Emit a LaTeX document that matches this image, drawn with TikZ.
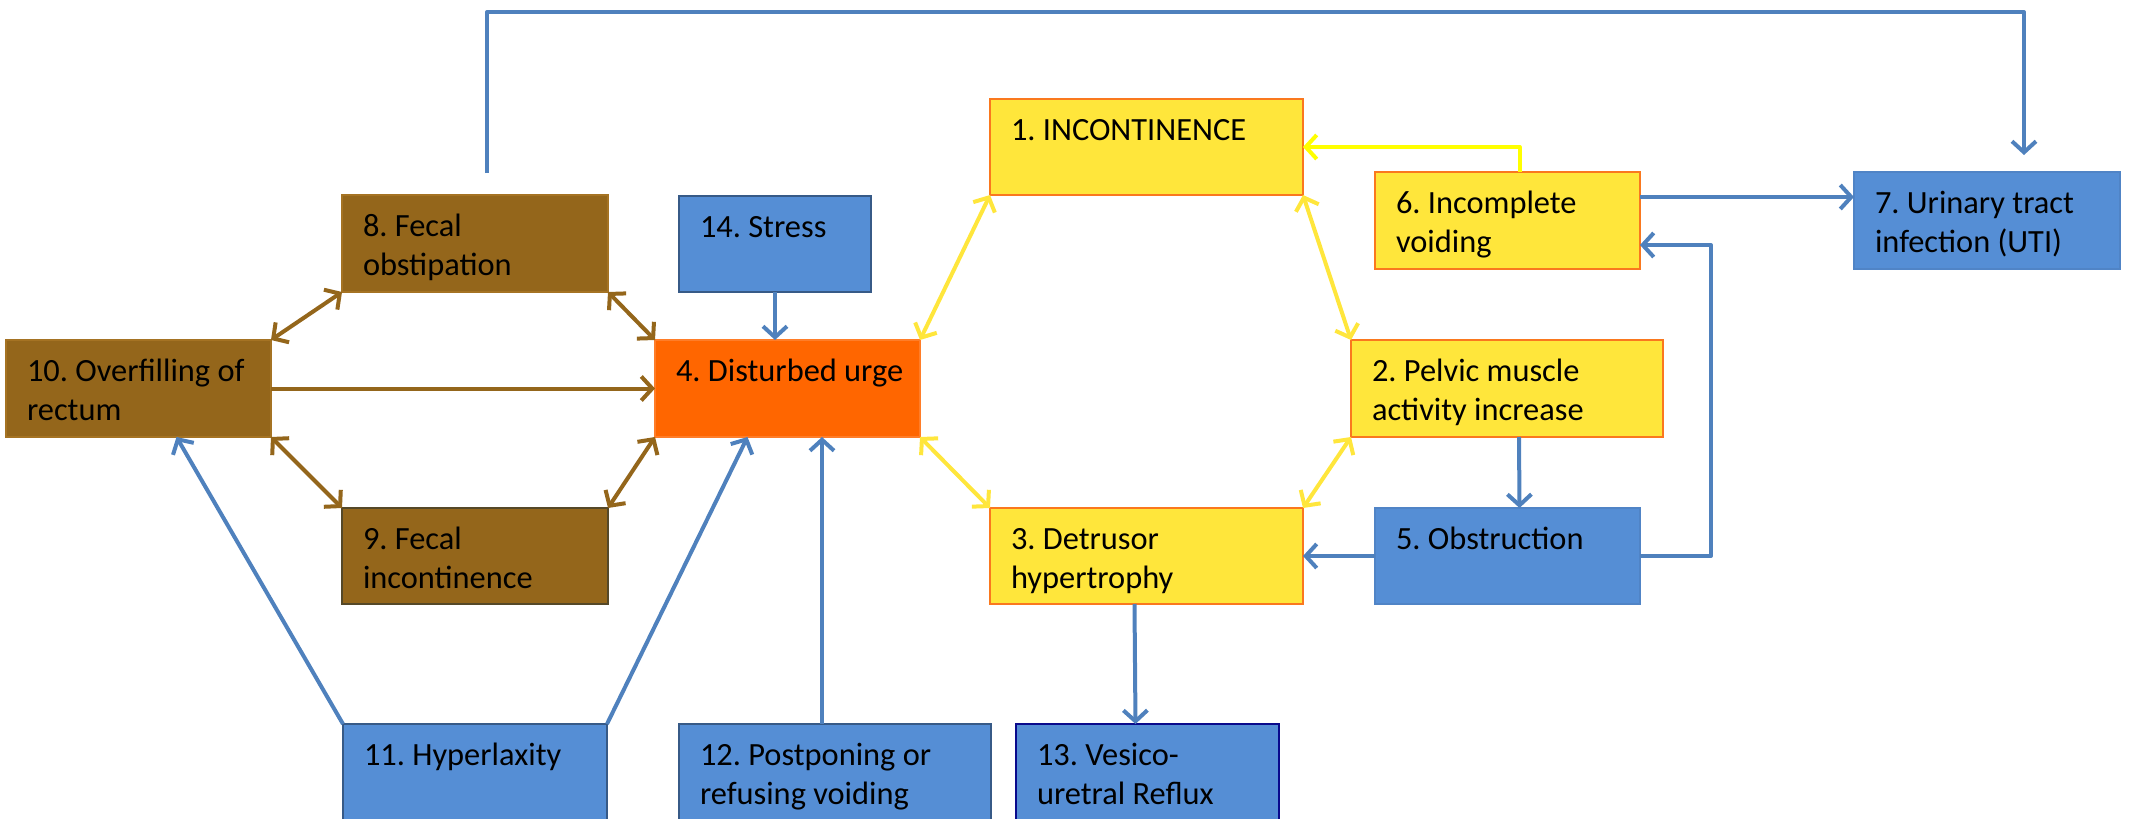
\documentclass[tikz,border=0pt]{standalone}
\usepackage{fontspec}
\setmainfont{Carlito}
\usetikzlibrary{arrows.meta,calc}
\definecolor{yfill}{RGB}{255,230,59}
\definecolor{yborder}{RGB}{250,120,30}
\definecolor{yarrow}{RGB}{255,230,60}
\definecolor{ybright}{RGB}{255,255,0}
\definecolor{brfill}{RGB}{148,102,27}
\definecolor{brborder}{RGB}{165,115,35}
\definecolor{brdark}{RGB}{85,72,40}
\definecolor{ofill}{RGB}{255,102,0}
\definecolor{oborder}{RGB}{255,125,40}
\definecolor{bfill}{RGB}{85,142,213}
\definecolor{bborder}{RGB}{80,132,198}
\definecolor{bborderdk}{RGB}{55,90,135}
\definecolor{navyb}{RGB}{10,10,140}
\definecolor{barrow}{RGB}{79,129,189}
\tikzset{
  box/.style={anchor=north west, inner sep=0pt, outer sep=0pt, line width=1pt,
    font=\fontsize{16.2}{19.5}\selectfont},
  ybox/.style={box, fill=yfill, draw=yborder},
  bbox/.style={box, fill=bfill, draw=bborder},
  brbox/.style={box, fill=brfill, draw=brborder},
  obox/.style={box, fill=ofill, draw=oborder},
  conn/.style={line width=2pt, line join=round, -{Straight Barb[length=5.5pt,width=12pt]}},
  conntwo/.style={line width=2pt, line join=round, {Straight Barb[length=5.5pt,width=12pt]}-{Straight Barb[length=5.5pt,width=12pt]}},
  bluearrow/.style={conn, draw=barrow},
  brownarrow/.style={conn, draw=brfill},
  browntwo/.style={conntwo, draw=brfill},
  yellowtwo/.style={conntwo, draw=yarrow},
  yellowarrow/.style={conn, draw=ybright},
}
\newcommand\boxtext[3]{\parbox[c][#2][t]{#1}{\frenchspacing\leftskip=10.5pt\rightskip=0pt plus 1fil\vspace*{6.9pt}\strut #3}}
\begin{document}
\begin{tikzpicture}[x=0.5pt,y=-0.5pt]
\useasboundingbox (0,0) rectangle (2132,819);
\clip (0,0) rectangle (2132,819);
% nodes
\node[ybox] (n1) at (990,99) {\boxtext{156.5pt}{48pt}{1. INCONTINENCE}};
\node[bbox, draw=bborderdk] (n14) at (679,196) {\boxtext{96pt}{48pt}{14. Stress}};
\node[obox] (n4) at (655,340) {\boxtext{132.5pt}{48.5pt}{4. Disturbed urge}};
\node[ybox] (n2) at (1351,340) {\boxtext{156pt}{48.5pt}{2. Pelvic muscle\\activity increase}};
\node[ybox] (n6) at (1375,172) {\boxtext{132.5pt}{48.5pt}{6. Incomplete\\voiding}};
\node[bbox] (n7) at (1854,172) {\boxtext{133pt}{48.5pt}{7. Urinary tract\\infection (UTI)}};
\node[bbox] (n5) at (1375,508) {\boxtext{132.5pt}{48pt}{5. Obstruction}};
\node[ybox] (n3) at (990,508) {\boxtext{156.5pt}{48pt}{3. Detrusor\\hypertrophy}};
\node[brbox] (n8) at (342,195) {\boxtext{133pt}{48.5pt}{8. Fecal\\obstipation}};
\node[brbox] (n10) at (6,340) {\boxtext{132.5pt}{48.5pt}{10. Overfilling of\\rectum}};
\node[brbox, draw=brdark] (n9) at (342,508) {\boxtext{133pt}{48pt}{9. Fecal\\incontinence}};
\node[bbox, draw=bborderdk] (n11) at (343,724) {\boxtext{132pt}{48.5pt}{11. Hyperlaxity}};
\node[bbox, draw=bborderdk] (n12) at (679,724) {\boxtext{156pt}{48.5pt}{12. Postponing or\\refusing voiding}};
\node[bbox, draw=navyb] (n13) at (1016,724) {\boxtext{131.5pt}{48.5pt}{13. Vesico-\\uretral Reflux}};
% helper coordinates
\coordinate (tr) at (2024,12);
\coordinate (c56) at (1711,245);
\coordinate (a67) at ([yshift=-12.5pt]n6.north east);
\coordinate (c12) at ([xshift=-6.5pt]n12.north);
% blue connectors
\draw[bluearrow, shorten <=11pt, shorten >=8.5pt] ([xshift=6pt]n8.north) |- (tr) -- (tr |- n7.north);
\draw[bluearrow] (a67) -- (a67 -| n7.west);
\draw[bluearrow] (n5.east) -| (c56) -- (c56 -| n6.east);
\draw[bluearrow] ([xshift=6pt]n2.south) -- ([xshift=6pt]n5.north);
\draw[bluearrow] (n5.west) -- (n5.west -| n3.east);
\draw[bluearrow] ([xshift=-6pt]n3.south) -- ([xshift=-6pt]n13.north);
\draw[bluearrow] (n14.south) -- (n14.south |- n4.north);
\draw[bluearrow] (c12) -- (c12 |- n4.south);
\draw[bluearrow] (n11.north east) -- ([xshift=-20pt]n4.south);
\draw[bluearrow] (n11.north west) -- ([xshift=19pt]n10.south);
% yellow connectors
\draw[yellowarrow] ([xshift=6pt]n6.north) |- (n1.east);
\draw[yellowtwo] (n4.north east) -- (n1.south west);
\draw[yellowtwo] (n1.south east) -- (n2.north west);
\draw[yellowtwo] (n4.south east) -- (n3.north west);
\draw[yellowtwo] (n2.south west) -- (n3.north east);
% brown connectors
\draw[browntwo] (n10.north east) -- (n8.south west);
\draw[browntwo] (n8.south east) -- (n4.north west);
\draw[brownarrow] (n10.east) -- (n4.west);
\draw[browntwo] (n10.south east) -- (n9.north west);
\draw[browntwo] (n9.north east) -- (n4.south west);
\end{tikzpicture}
\end{document}
